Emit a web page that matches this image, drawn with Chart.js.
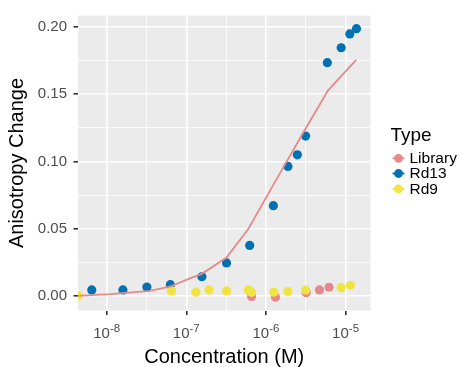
<!DOCTYPE html>
<html>
<head>
<meta charset="utf-8">
<script src="https://cdn.jsdelivr.net/npm/chart.js@4.4.1/dist/chart.umd.min.js"></script>
<style>
  html, body { margin: 0; padding: 0; background: #fff; }
</style>
</head>
<body>
<canvas id="anisoChart" width="460" height="367"></canvas>
<script>

// concentrations (M) and anisotropy change per Type
var libConc   = [6.6e-7, 1.32e-6, 3.2e-6, 4.7e-6, 6.2e-6];
var libAniso  = [-0.0005, -0.0010, 0.0024, 0.0044, 0.0064];

var rd13Conc  = [6.5e-9, 1.6e-8, 3.2e-8, 6.3e-8, 1.57e-7, 3.2e-7, 6.25e-7, 1.24e-6, 1.89e-6, 2.48e-6, 3.15e-6, 5.9e-6, 8.8e-6, 1.13e-5, 1.37e-5];
var rd13Aniso = [0.0044, 0.0044, 0.0066, 0.0083, 0.0142, 0.0245, 0.0375, 0.0671, 0.0963, 0.1049, 0.1189, 0.1735, 0.1846, 0.1949, 0.1988];

var rd9Conc   = [4.4e-9, 6.5e-8, 1.32e-7, 1.93e-7, 3.2e-7, 6.0e-7, 6.6e-7, 1.26e-6, 1.89e-6, 3.15e-6, 8.8e-6, 1.15e-5];
var rd9Aniso  = [0.0000, 0.0037, 0.0027, 0.0044, 0.0037, 0.0044, 0.0027, 0.0027, 0.0032, 0.0044, 0.0061, 0.0079];

// fitted curve (Library colour)
var fitConc   = [4.4e-9, 1.1e-8, 3.5e-8, 6.2e-8, 1.11e-7, 1.55e-7, 3.2e-7, 6.0e-7, 1.35e-6, 2.9e-6, 6.0e-6, 1.36e-5];
var fitAniso  = [0.0000, 0.0013, 0.0037, 0.0068, 0.0130, 0.0162, 0.0285, 0.0498, 0.0865, 0.1208, 0.1527, 0.1755];

var typeLabels = ["Library", "Rd13", "Rd9"];
var typeColors = ["#E5898C", "#0072B2", "#F0E442"];

var xMajor = [1e-8, 1e-7, 1e-6, 1e-5];
var xMinor = [Math.pow(10, -7.5), Math.pow(10, -6.5), Math.pow(10, -5.5)];
var yTicks = [0, 0.025, 0.05, 0.075, 0.1, 0.125, 0.15, 0.175, 0.2];

var FONT = "'Liberation Sans', Arial, Helvetica, sans-serif";

function pts(xs, ys){
  return xs.map(function(x, i){ return {x: x, y: ys[i]}; });
}

function isMajorX(v){
  var l = Math.log10(v);
  return Math.abs(l - Math.round(l)) < 1e-6;
}
function isMajorY(v){
  return Math.abs(v * 20 - Math.round(v * 20)) < 1e-6;
}

// grey panel behind the grid
var panelBg = {
  id: 'panelBg',
  beforeDraw: function(chart){
    var a = chart.chartArea, c = chart.ctx;
    c.save();
    c.fillStyle = '#EBEBEB';
    c.fillRect(a.left, a.top, a.right - a.left, a.bottom - a.top);
    c.restore();
  }
};

// 10^n tick labels and the Type legend
var extras = {
  id: 'extras',
  afterDraw: function(chart){
    var c = chart.ctx, xs = chart.scales.x;
    c.save();
    c.fillStyle = '#4D4D4D';
    c.textBaseline = 'alphabetic';
    xMajor.forEach(function(v){
      var px = xs.getPixelForValue(v);
      var exp = String(Math.round(Math.log10(v)));
      c.font = '15px ' + FONT;
      var w1 = c.measureText('10').width;
      c.font = '11.5px ' + FONT;
      var w2 = c.measureText(exp).width;
      var x0 = px - (w1 + w2) / 2;
      c.font = '15px ' + FONT;
      c.fillText('10', x0, 337.5);
      c.font = '11.5px ' + FONT;
      c.fillText(exp, x0 + w1, 331.5);
    });

    // legend
    c.fillStyle = '#000';
    c.font = '19px ' + FONT;
    c.fillText('Type', 390.5, 141);
    var keyY = [158.3, 173.5, 189];
    c.textBaseline = 'middle';
    c.font = '15.5px ' + FONT;
    typeLabels.forEach(function(lab, i){
      var y = keyY[i];
      c.strokeStyle = typeColors[i];
      c.lineWidth = 1.8;
      c.beginPath();
      c.moveTo(392.5, y);
      c.lineTo(404.5, y);
      c.stroke();
      c.fillStyle = typeColors[i];
      c.beginPath();
      c.arc(398.5, y, 4.4, 0, Math.PI * 2);
      c.fill();
      c.fillStyle = '#000';
      c.fillText(lab, 409.5, y + 0.5);
    });
    c.restore();
  }
};

function init(){

  var ctx = document.getElementById('anisoChart').getContext('2d');
  var chart = new Chart(ctx, {
    type: 'scatter',
    data: {
      datasets: [{
          label: 'fit',
          data: pts(fitConc, fitAniso),
          showLine: true,
          borderColor: typeColors[0],
          borderWidth: 1.8,
          pointRadius: 0,
          tension: 0,
          fill: false,
          clip: 0,
          order: 0
        }, {
          label: typeLabels[2],
          data: pts(rd9Conc, rd9Aniso),
          backgroundColor: typeColors[2],
          pointRadius: 4.6,
          pointBorderWidth: 0,
          clip: 0,
          order: 1
        }, {
          label: typeLabels[1],
          data: pts(rd13Conc, rd13Aniso),
          backgroundColor: typeColors[1],
          pointRadius: 4.6,
          pointBorderWidth: 0,
          clip: 0,
          order: 2
        }, {
          label: typeLabels[0],
          data: pts(libConc, libAniso),
          backgroundColor: typeColors[0],
          pointRadius: 4.6,
          pointBorderWidth: 0,
          clip: 0,
          order: 3
        }]
    },
    options: {
      responsive: false,
      animation: false,
      devicePixelRatio: 1,
      events: [],
      layout: { padding: { top: 12, right: 89.5, left: 0, bottom: 0 } },
      plugins: {
        legend: { display: false },
        tooltip: { enabled: false }
      },
      scales: {
        x: {
          type: 'logarithmic',
          min: Math.pow(10, -8.36),
          max: Math.pow(10, -4.687),
          afterBuildTicks: function(scale){
            scale.ticks = xMajor.concat(xMinor).sort(function(a, b){ return a - b; })
              .map(function(v){ return {value: v}; });
          },
          afterFit: function(scale){ scale.height = 56.5; },
          border: { display: false },
          grid: {
            color: '#FFFFFF',
            lineWidth: function(c){ return isMajorX(c.tick.value) ? 1.6 : 0.8; },
            tickColor: function(c){ return isMajorX(c.tick.value) ? '#333333' : 'rgba(0,0,0,0)'; },
            tickWidth: 1.6,
            tickLength: 4.5
          },
          ticks: {
            autoSkip: false,
            maxRotation: 0,
            callback: function(){ return ''; }
          },
          title: {
            display: true,
            text: 'Concentration (M)',
            color: '#000',
            font: { family: FONT, size: 20, lineHeight: 1 },
            padding: { top: 0, bottom: 0 }
          }
        },
        y: {
          type: 'linear',
          min: -0.0109,
          max: 0.2086,
          afterBuildTicks: function(scale){
            scale.ticks = yTicks.map(function(v){ return {value: v}; });
          },
          afterFit: function(scale){ scale.width = 78; },
          border: { display: false },
          grid: {
            color: '#FFFFFF',
            lineWidth: function(c){ return isMajorY(c.tick.value) ? 1.6 : 0.8; },
            tickColor: function(c){ return isMajorY(c.tick.value) ? '#333333' : 'rgba(0,0,0,0)'; },
            tickWidth: 1.6,
            tickLength: 4.5
          },
          ticks: {
            autoSkip: false,
            padding: 6.5,
            color: '#4D4D4D',
            font: { family: FONT, size: 15 },
            callback: function(v){ return isMajorY(v) ? v.toFixed(2) : ''; }
          },
          title: {
            display: true,
            text: 'Anisotropy Change',
            color: '#000',
            font: { family: FONT, size: 20, lineHeight: 1 },
            padding: { top: 7.5, bottom: 0 }
          }
        }
      }
    },
    plugins: [panelBg, extras]
  });
}

init();
</script>
</body>
</html>
